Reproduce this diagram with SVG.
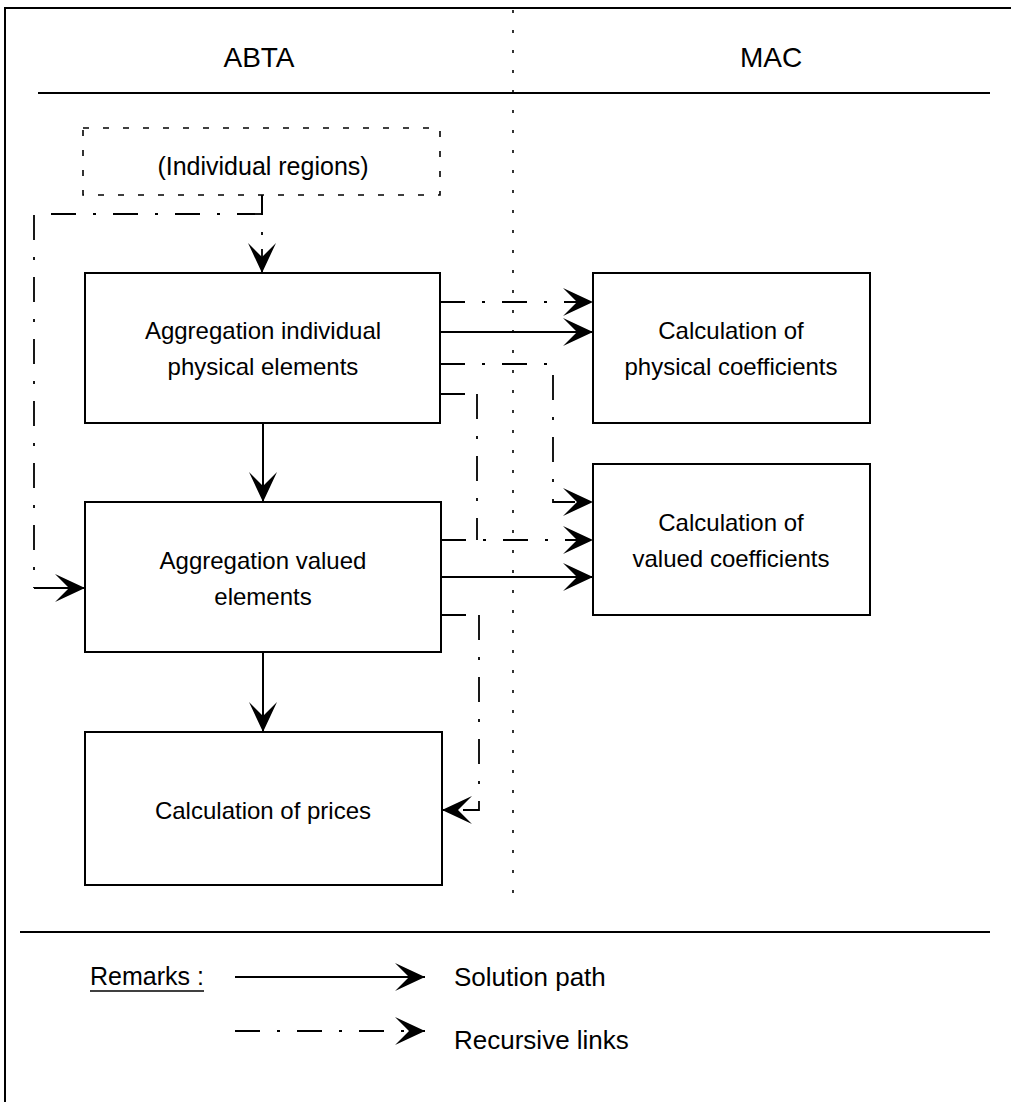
<svg xmlns="http://www.w3.org/2000/svg" width="1011" height="1102" viewBox="0 0 1011 1102">
  <defs>
    <marker id="head" viewBox="-31 -15 32 30" refX="0" refY="0" markerWidth="32" markerHeight="30" markerUnits="userSpaceOnUse" orient="auto">
      <path d="M0,0 L-30,-14 L-16,0 L-30,14 Z" fill="#000"/>
    </marker>
    <style>
      .frame { fill: none; stroke: #000; stroke-width: 2; }
      .box { fill: #fff; stroke: #000; stroke-width: 2; }
      .ghost { fill: none; stroke: #000; stroke-width: 1.6; stroke-dasharray: 6 14; }
      .divider { fill: none; stroke: #000; stroke-width: 1.6; stroke-dasharray: 3 17; }
      .solid { fill: none; stroke: #000; stroke-width: 2; }
      .rec { fill: none; stroke: #000; stroke-width: 1.8; stroke-dasharray: 25 17 3 17; }
      .arrow { marker-end: url(#head); }
      text { font-family: "Liberation Sans", Arial, sans-serif; font-size: 24px; fill: #000; }
      .mid { text-anchor: middle; }
      .head { font-size: 28px; }
      .big { font-size: 25px; }
      .key { font-size: 26px; }
    </style>
  </defs>

  <!-- frame and header -->
  <g id="frame">
    <path class="frame" d="M5,1102 V8 H1011"/>
    <line class="frame" x1="38" y1="93" x2="990" y2="93"/>
    <line class="frame" x1="20" y1="932" x2="990" y2="932"/>
    <line class="divider" x1="513" y1="10" x2="513" y2="900"/>
    <text class="mid head" x="259" y="67">ABTA</text>
    <text class="mid head" x="771" y="67">MAC</text>
  </g>

  <!-- connectors -->
  <g id="connectors">
    <!-- regions feed -->
    <line class="solid" x1="262" y1="195" x2="262" y2="215"/>
    <line class="rec" x1="262" y1="232" x2="262" y2="272" style="stroke-dasharray: 3 14 25 10"/>
    <line class="solid" x1="262" y1="262" x2="262" y2="273" style="stroke:none" marker-end="url(#head)"/>
    <path class="rec" d="M262,214 H49"/>
    <path class="rec" d="M34,215 V588"/>
    <path class="solid arrow" d="M34,588 H85"/>

    <!-- aggregation physical -> coefficients -->
    <path class="rec arrow" d="M440,302 H593"/>
    <path class="solid arrow" d="M440,332 H593"/>
    <path class="rec arrow" d="M440,364 H553 V502 H593"/>
    <path class="solid" d="M440,394 H465"/>
    <path class="rec" d="M477,394 V540"/>

    <!-- aggregation valued -> coefficients -->
    <path class="rec arrow" d="M441,540 H593"/>
    <path class="solid arrow" d="M441,577 H593"/>
    <path class="solid" d="M442,615 H466"/>
    <path class="rec arrow" d="M479,615 V810 H442"/>

    <!-- solution path down the ABTA column -->
    <path class="solid arrow" d="M263,423 V502"/>
    <path class="solid arrow" d="M263,652 V732"/>
  </g>

  <!-- nodes -->
  <g id="individual-regions">
    <rect class="ghost" x="83" y="128" width="357" height="67"/>
    <text class="mid big" x="263" y="175">(Individual regions)</text>
  </g>
  <g id="aggregation-physical">
    <rect class="box" x="85" y="273" width="355" height="150"/>
    <text class="mid" x="263" y="339">Aggregation individual</text>
    <text class="mid" x="263" y="375">physical elements</text>
  </g>
  <g id="aggregation-valued">
    <rect class="box" x="85" y="502" width="356" height="150"/>
    <text class="mid" x="263" y="569">Aggregation valued</text>
    <text class="mid" x="263" y="605">elements</text>
  </g>
  <g id="prices">
    <rect class="box" x="85" y="732" width="357" height="153"/>
    <text class="mid" x="263" y="819">Calculation of prices</text>
  </g>
  <g id="physical-coefficients">
    <rect class="box" x="593" y="273" width="277" height="150"/>
    <text class="mid" x="731" y="339">Calculation of</text>
    <text class="mid" x="731" y="375">physical coefficients</text>
  </g>
  <g id="valued-coefficients">
    <rect class="box" x="593" y="464" width="277" height="151"/>
    <text class="mid" x="731" y="531">Calculation of</text>
    <text class="mid" x="731" y="567">valued coefficients</text>
  </g>

  <!-- legend -->
  <g id="legend">
    <text class="big" x="90" y="985">Remarks :</text>
    <line class="solid" x1="90" y1="991" x2="204" y2="991" style="stroke-width:1.5"/>
    <path class="solid arrow" d="M235,977 H425"/>
    <text class="key" x="454" y="986">Solution path</text>
    <path class="rec arrow" d="M235,1031 H425"/>
    <text class="key" x="454" y="1049">Recursive links</text>
  </g>
</svg>
